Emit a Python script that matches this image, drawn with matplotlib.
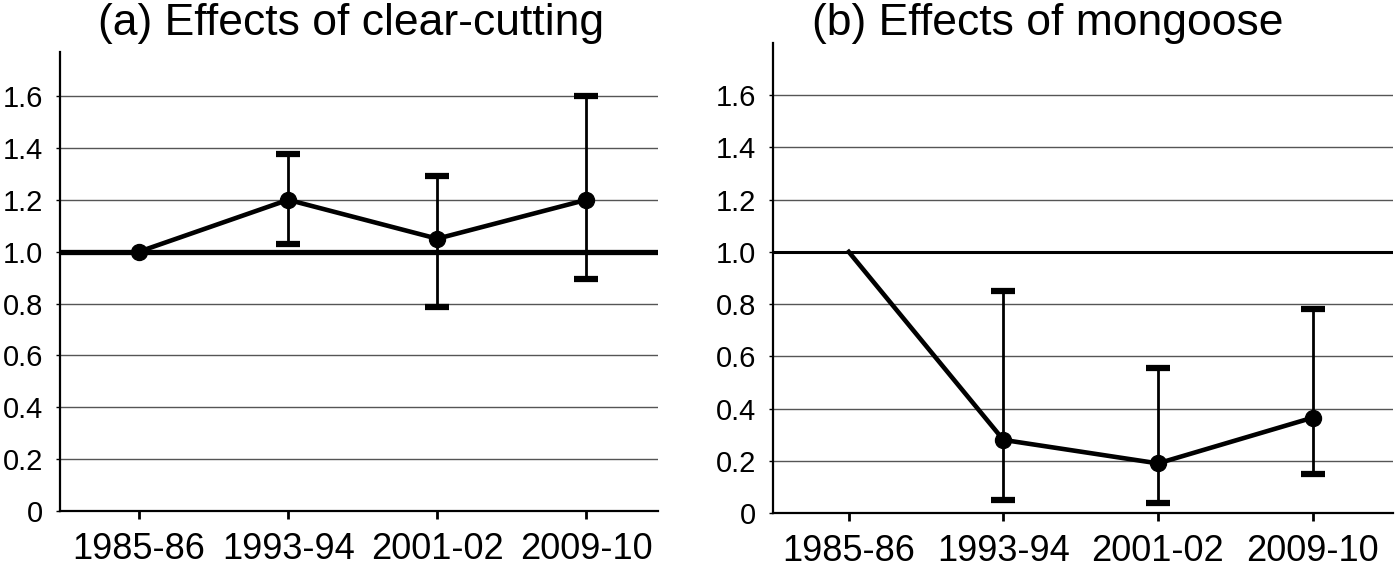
import numpy as np
import matplotlib.pyplot as plt

periods = ['1985-86', '1993-94', '2001-02', '2009-10']
yticks = [0, 0.2, 0.4, 0.6, 0.8, 1.0, 1.2, 1.4, 1.6]
ytick_labels = ['0', '0.2', '0.4', '0.6', '0.8', '1.0', '1.2', '1.4', '1.6']

# (a) clear-cutting
a_mean = [1.0, 1.2, 1.05, 1.2]
a_low = [1.0, 1.03, 0.785, 0.895]
a_high = [1.0, 1.375, 1.29, 1.6]

# (b) mongoose
b_mean = [1.0, 0.28, 0.19, 0.365]
b_low = [1.0, 0.05, 0.04, 0.15]
b_high = [1.0, 0.85, 0.555, 0.78]

plt.rcParams['font.family'] = ['Liberation Sans', 'DejaVu Sans']

fig = plt.figure(figsize=(14, 5.66), dpi=100)
ax1 = fig.add_axes([60/1400, 55/566, 598/1400, 459/566])
ax2 = fig.add_axes([773/1400, 53/566, 620/1400, 470/566])


def panel(ax, mean, low, high, top, xlim, refw, first_marker):
    x = np.arange(len(periods))
    ax.set_xlim(*xlim)
    ax.set_ylim(0, top)
    ax.set_yticks(yticks)
    ax.set_yticklabels(ytick_labels, fontsize=21)
    ax.set_xticks(x)
    ax.set_xticklabels(periods, fontsize=26)
    ax.tick_params(axis='x', length=6, width=2, pad=9, direction='out')
    ax.tick_params(axis='y', length=3, width=1, pad=9, direction='out')
    for s in ['top', 'right']:
        ax.spines[s].set_visible(False)
    for s in ['left', 'bottom']:
        ax.spines[s].set_linewidth(1.6)
    ax.yaxis.grid(True, color='#555555', linewidth=1.0)
    ax.set_axisbelow(True)
    ax.axhline(1.0, color='black', linewidth=refw, zorder=2)

    mean = np.array(mean)
    err = [mean - np.array(low), np.array(high) - mean]
    ax.errorbar(x[1:], mean[1:], yerr=[err[0][1:], err[1][1:]], fmt='none',
                ecolor='black', elinewidth=2.0, capsize=8.5, capthick=4.5, zorder=3)
    ax.plot(x, mean, color='black', linewidth=3.3, zorder=4)
    if first_marker:
        ax.plot(x, mean, 'o', color='black', markersize=11.5, zorder=5)
    else:
        ax.plot(x[1:], mean[1:], 'o', color='black', markersize=11.5, zorder=5)


panel(ax1, a_mean, a_low, a_high, 1.77, (-0.53, 3.48), 3.8, True)
panel(ax2, b_mean, b_low, b_high, 1.8, (-0.49, 3.52), 2.2, False)

fig.text(351/1400, 1 - 24/566, '(a) Effects of clear-cutting', ha='center', va='center',
         fontsize=32)
fig.text(1048/1400, 1 - 24/566, '(b) Effects of mongoose', ha='center', va='center',
         fontsize=32)

fig.savefig('out.png', dpi=100)
